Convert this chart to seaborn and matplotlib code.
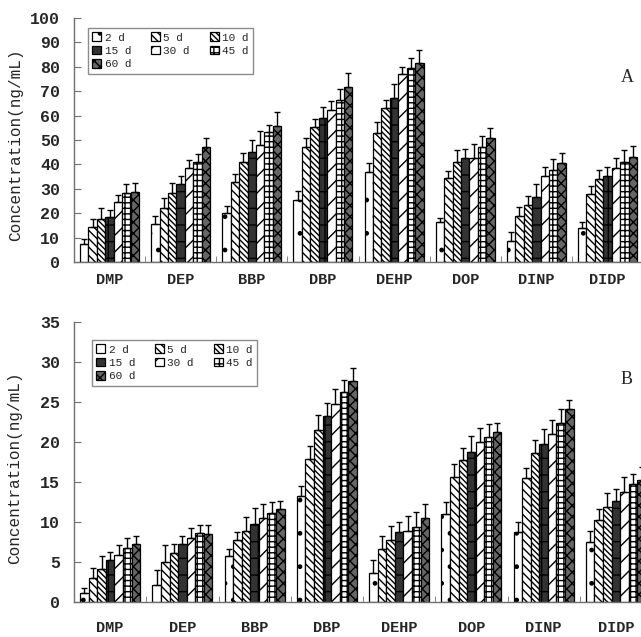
# Phthalate concentration over time, two panels (A, B), grouped bars with upper error bars.
import matplotlib
matplotlib.use("Agg")
import matplotlib.pyplot as plt
import seaborn as sns
import pandas as pd
import numpy as np

compounds = ["DMP", "DEP", "BBP", "DBP", "DEHP", "DOP", "DINP", "DIDP"]
days = ["2 d", "5 d", "10 d", "15 d", "30 d", "45 d", "60 d"]

# panel A: rows = compounds, cols = days
conc_a = [
    [7.3, 14.2, 17.6, 18.5, 24.5, 28.4, 28.6],
    [15.6, 22.0, 28.4, 31.8, 38.4, 41.1, 47.0],
    [20.2, 32.7, 40.9, 45.2, 48.0, 53.4, 55.9],
    [25.4, 47.0, 55.2, 58.9, 62.5, 66.4, 71.9],
    [37.0, 52.7, 63.0, 67.3, 77.0, 79.4, 81.7],
    [16.3, 34.3, 41.1, 42.7, 42.5, 47.3, 50.7],
    [8.7, 19.0, 23.4, 26.8, 35.2, 37.7, 40.4],
    [13.8, 27.9, 33.9, 35.2, 38.4, 41.1, 42.9],
]
err_a = [
    [2.0, 3.4, 4.4, 3.0, 3.1, 3.6, 3.6],
    [3.4, 4.1, 3.8, 3.6, 3.4, 3.0, 3.8],
    [2.8, 3.2, 3.6, 4.8, 5.8, 2.7, 5.7],
    [3.7, 3.7, 3.3, 4.8, 3.5, 4.4, 5.4],
    [3.4, 4.8, 3.4, 5.5, 3.0, 4.1, 5.2],
    [1.9, 3.1, 4.8, 3.7, 6.0, 4.5, 4.3],
    [3.5, 3.7, 3.8, 5.0, 3.9, 4.5, 4.1],
    [2.7, 3.2, 3.8, 3.6, 4.1, 4.8, 4.8],
]

# panel B
conc_b = [
    [1.1, 3.0, 4.1, 5.25, 5.9, 6.7, 7.3],
    [2.1, 5.0, 6.1, 7.2, 8.0, 8.6, 8.5],
    [5.7, 7.8, 8.9, 9.8, 10.5, 11.1, 11.6],
    [13.2, 17.9, 21.5, 23.25, 24.8, 26.2, 27.6],
    [3.6, 6.6, 7.8, 8.7, 8.9, 9.4, 10.5],
    [11.0, 15.6, 17.7, 18.7, 20.0, 20.6, 21.3],
    [8.7, 15.5, 18.6, 19.75, 21.0, 22.4, 24.1],
    [7.5, 10.25, 11.9, 12.6, 13.7, 14.8, 15.3],
]
err_b = [
    [0.6, 1.3, 1.6, 1.05, 1.2, 1.3, 1.0],
    [1.9, 2.1, 1.1, 1.1, 1.2, 1.0, 1.1],
    [0.9, 1.0, 1.7, 1.9, 1.75, 1.4, 1.0],
    [1.3, 1.6, 1.9, 1.65, 1.8, 1.5, 1.6],
    [1.65, 1.7, 1.7, 1.3, 1.8, 1.8, 1.7],
    [1.5, 1.6, 1.6, 2.05, 1.7, 1.6, 1.1],
    [1.3, 1.3, 1.6, 1.85, 1.8, 1.7, 1.15],
    [1.4, 1.35, 1.7, 1.5, 1.9, 1.2, 1.6],
]

faces = ["white", "white", "white", "0.2", "white", "white", "0.4"]
hatches = [".", "\\\\\\\\", "\\\\\\\\\\\\", "+", "//", "+++", "xxx"]

sns.set_style("ticks")
plt.rcParams["font.family"] = ["Liberation Mono", "DejaVu Sans Mono"]
plt.rcParams["hatch.linewidth"] = 1.0
axis_grey = "#707070"


def to_frame(conc):
    rows = []
    for i, c in enumerate(compounds):
        for j, d in enumerate(days):
            rows.append({"compound": c, "day": d, "conc": conc[i][j]})
    return pd.DataFrame(rows)


def draw_panel(ax, conc, err, ymax, ystep, legend_anchor, xpad):
    df = to_frame(conc)
    sns.barplot(data=df, x="compound", y="conc", hue="day", order=compounds,
                hue_order=days, palette=faces, width=0.83, gap=0,
                edgecolor="black", linewidth=0.9, errorbar=None,
                legend=False, saturation=1, ax=ax)
    bars = list(ax.containers)
    for j, cont in enumerate(bars):
        xs, tops = [], []
        for p in cont.patches:
            p.set_hatch(hatches[j])
            xs.append(p.get_x() + p.get_width() / 2)
            tops.append(p.get_height())
        e = [err[i][j] for i in range(len(compounds))]
        ax.errorbar(xs, tops, yerr=[np.zeros(len(e)), e], fmt="none",
                    ecolor="black", elinewidth=1.0, capsize=2.5, capthick=1.0)

    ax.set_xlim(-0.5, len(compounds) - 0.5)
    ax.set_ylim(0, ymax)
    ax.set_yticks(np.arange(0, ymax + 0.1, ystep))
    ax.set_xticks(np.arange(len(compounds) + 1) - 0.5, minor=True)
    ax.tick_params(axis="x", which="major", length=0, pad=xpad, labelsize=11)
    ax.tick_params(axis="x", which="minor", direction="in", length=4,
                   color=axis_grey)
    ax.tick_params(axis="y", direction="in", length=5, color=axis_grey,
                   pad=10, labelsize=12)
    for lab in ax.get_xticklabels() + ax.get_yticklabels():
        lab.set_fontweight("bold")
    sns.despine(ax=ax)
    for s in ["left", "bottom"]:
        ax.spines[s].set_color(axis_grey)
        ax.spines[s].set_linewidth(1.0)
    ax.set_xlabel("")
    ax.set_ylabel("Concentration(ng/mL)", fontsize=11.5)
    ax.yaxis.set_label_coords(-0.09, 0.48)

    order = [0, 3, 6, 1, 4, 2, 5]
    leg = ax.legend([bars[k] for k in order], [days[k] for k in order],
                    ncol=3, loc="upper left", bbox_to_anchor=legend_anchor,
                    bbox_transform=ax.figure.transFigure, borderaxespad=0,
                    fontsize=8, handlelength=0.8, handleheight=0.8,
                    handletextpad=0.3, columnspacing=1.8, labelspacing=0.3,
                    borderpad=0.4, frameon=True, fancybox=False)
    leg.get_frame().set_edgecolor(axis_grey)
    leg.get_frame().set_linewidth(1.0)


fig = plt.figure(figsize=(6.41, 6.37), dpi=100)
ax_a = fig.add_axes([74 / 641, 1 - 262 / 637, 569 / 641, 244 / 637])
ax_b = fig.add_axes([74 / 641, 1 - 602 / 637, 578 / 641, 280 / 637])

draw_panel(ax_a, conc_a, err_a, 100, 10, (88 / 641, 1 - 28 / 637), 8)
draw_panel(ax_b, conc_b, err_b, 35, 5, (92 / 641, 1 - 340 / 637), 14)

fig.text(627 / 641, 1 - 78 / 637, "A", ha="center", va="center", fontsize=13,
         family="Liberation Serif")
fig.text(627 / 641, 1 - 380 / 637, "B", ha="center", va="center", fontsize=13,
         family="Liberation Serif")

fig.savefig("out.png", dpi=100)
